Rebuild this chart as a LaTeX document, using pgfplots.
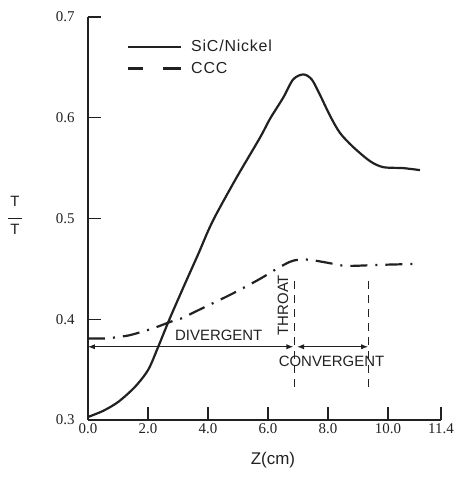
\documentclass[border=0pt]{standalone}
\usepackage{pgfplots}
\pgfplotsset{compat=1.18}
\usetikzlibrary{arrows.meta}
\usepackage{fontspec}
\setmainfont{Liberation Serif}
\newfontfamily\lsans{Liberation Sans}
\definecolor{ink}{gray}{0.13}
\begin{document}
\begin{tikzpicture}
\begin{axis}[
  at={(0,0)}, anchor=south west,
  scale only axis, width=353bp, height=403bp,
  xmin=0, xmax=11.77, ymin=0.3, ymax=0.7,
  axis lines=left, axis line style={-, line width=1.5bp, draw=ink},
  clip=false,
  xtick={0,2,4,6,8,10,11.77},
  xticklabels={0.0,2.0,4.0,6.0,8.0,10.0,11.4},
  ytick={0.3,0.4,0.5,0.6,0.7},
  yticklabels={0.3,0.4,0.5,0.6,0.7},
  tick align=inside, major tick length=13bp,
  tick style={line width=1.2bp, draw=ink},
  tick label style={font=\fontsize{15}{17}\selectfont, text=ink},
  /pgf/number format/assume math mode=true,
  yticklabel style={xshift=-10bp},
  xlabel={\lsans\fontsize{17}{19}\selectfont Z(cm)},
  xlabel style={at={(axis description cs:0.524,0)}, anchor=center, yshift=-40bp, text=ink},
  legend style={at={(rel axis cs:0.11,0.948)}, anchor=north west, draw=none, fill=none,
    font=\lsans\fontsize{16}{18}\selectfont\addfontfeature{LetterSpace=5}, text=ink, row sep=5bp, inner sep=0pt},
  legend cell align=left,
  legend image code/.code={\draw[#1] (0bp,0bp) -- (53bp,0bp); \path (60bp,0bp);},
]
\addplot[ink, line width=2.2bp, smooth, tension=0.5] coordinates {
(0,0.303) (0.5,0.309) (1.01,0.318) (1.57,0.333) (2.01,0.350) (2.34,0.3726)
(2.73,0.401) (3.23,0.435) (3.68,0.465) (4.01,0.488) (4.29,0.505) (4.96,0.541)
(5.73,0.580) (6.07,0.599) (6.51,0.620) (6.84,0.638) (7.18,0.643) (7.46,0.638)
(7.73,0.623) (8.07,0.602) (8.4,0.585) (8.84,0.571) (9.4,0.557) (9.84,0.551)
(10.51,0.550) (11.07,0.548)
};
\addlegendentry{SiC/Nickel}
\addplot[ink, line width=2.2bp, smooth, tension=0.5, forget plot,
  dash pattern=on 17bp off 8bp on 2bp off 8bp] coordinates {
(0,0.381) (0.6,0.381) (1.17,0.383) (1.5,0.385) (2.17,0.391) (2.8,0.398)
(3.13,0.401) (3.68,0.409) (4.79,0.425) (5.73,0.440) (6.29,0.450) (6.73,0.457)
(7.0,0.459) (7.4,0.459) (8.0,0.456) (8.62,0.453) (9.73,0.454) (11.07,0.455)
};
\addlegendimage{legend image code/.code={\draw[ink, line width=2.2bp] (0bp,0bp) -- (15bp,0bp) (35bp,0bp) -- (53bp,0bp); \path (60bp,0bp);}}
\addlegendentry{CCC}
% annotations
\draw[ink, line width=1bp, dash pattern=on 8bp off 6bp] (axis cs:6.9,0.333) -- (axis cs:6.9,0.440);
\draw[ink, line width=1bp, dash pattern=on 8bp off 6bp] (axis cs:9.34,0.333) -- (axis cs:9.34,0.440);
\draw[ink, line width=1bp, {Latex[length=7bp]}-{Latex[length=7bp]}] (axis cs:0,0.3727) -- (axis cs:6.85,0.3727);
\draw[ink, line width=1bp, {Latex[length=7bp]}-{Latex[length=7bp]}] (axis cs:6.97,0.3727) -- (axis cs:9.34,0.3727);
\node[text=ink, font=\lsans\fontsize{15}{17}\selectfont] at (axis cs:4.36,0.384) {DIVERGENT};
\node[text=ink, font=\lsans\fontsize{15}{17}\selectfont] at (axis cs:8.12,0.358) {CONVERGENT};
\node[text=ink, font=\lsans\fontsize{15}{17}\selectfont, rotate=90] at (axis cs:6.5,0.414) {THROAT};
\node[text=ink, font=\lsans\fontsize{15}{17}\selectfont, inner sep=0pt] at (rel axis cs:0,0.504) [xshift=-73bp]
  {\begin{tabular}{@{}c@{}}T\\[-4bp]\rule{14bp}{0.9bp}\\[-2bp]T\end{tabular}};
\end{axis}
\path[use as bounding box] (-88bp,-60bp) rectangle (368bp,420bp);
\end{tikzpicture}
\end{document}
